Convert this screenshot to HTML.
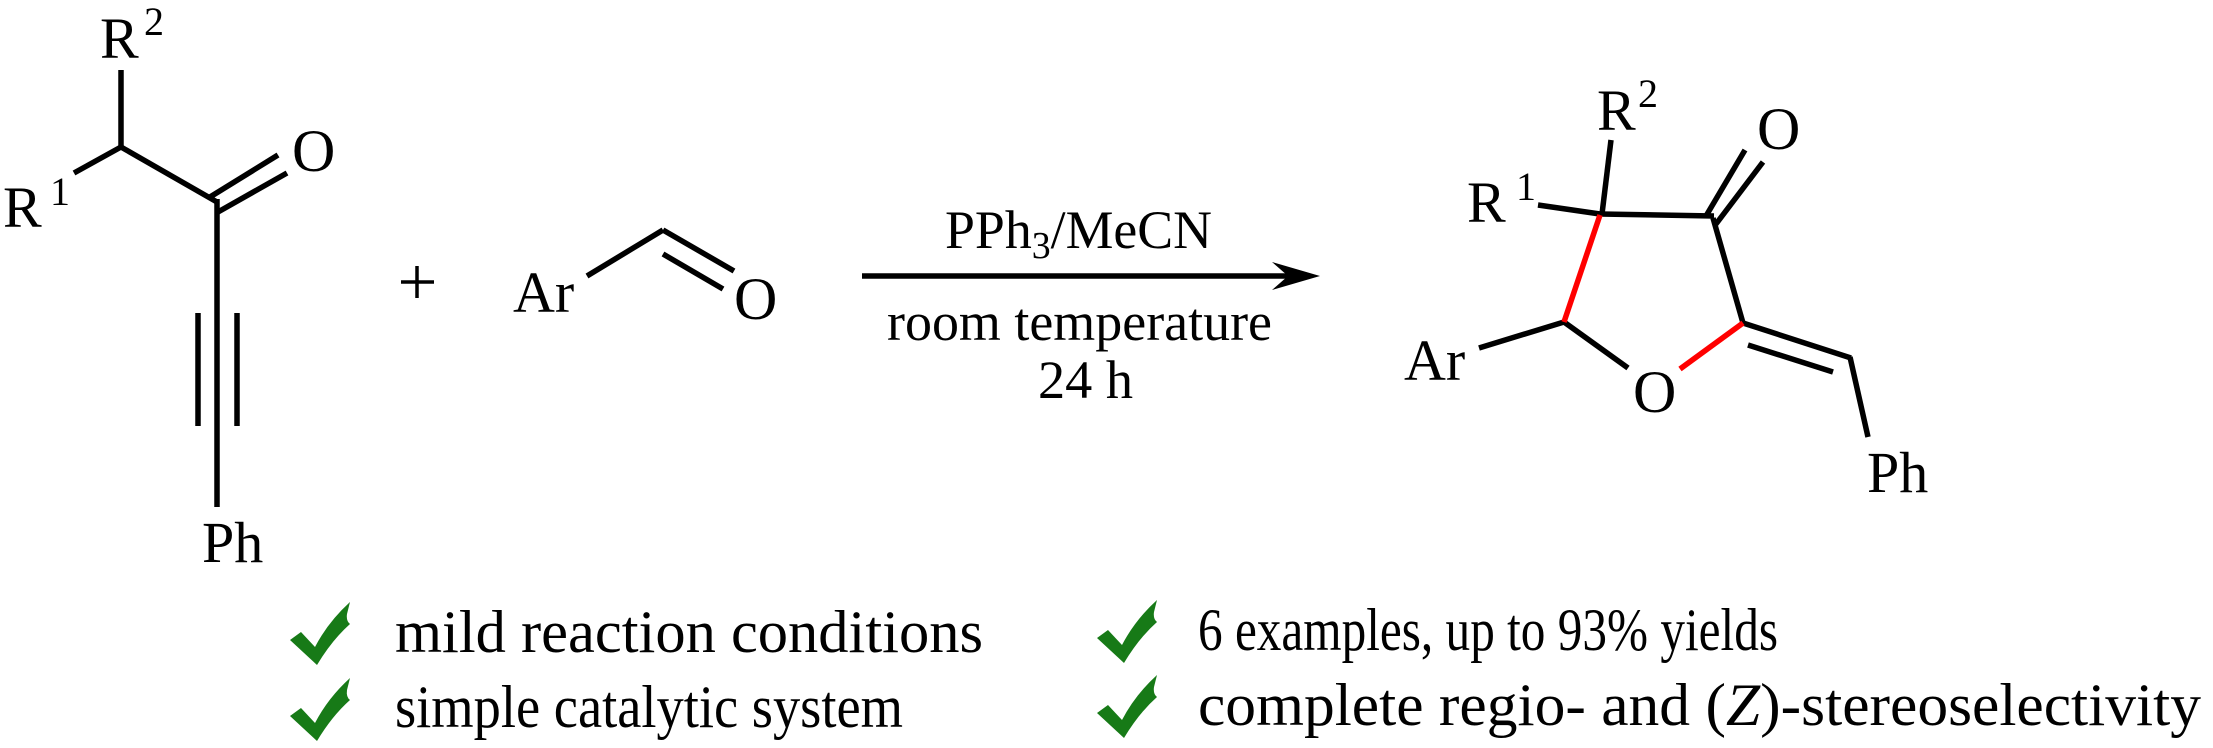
<!DOCTYPE html>
<html><head><meta charset="utf-8"><style>
html,body{margin:0;padding:0;background:#fff;}
svg{display:block;}
text{font-family:"Liberation Serif",serif;fill:#000;}
</style></head><body>
<svg width="2213" height="748" viewBox="0 0 2213 748" xmlns="http://www.w3.org/2000/svg">
<g stroke="#000" stroke-width="5.5" fill="none" stroke-linecap="butt">
<line x1="121" y1="70" x2="121" y2="147"/>
<line x1="121" y1="147" x2="74" y2="173"/>
<line x1="121" y1="147" x2="217" y2="202"/>
<line x1="210" y1="197" x2="278" y2="155"/>
<line x1="218" y1="212" x2="287" y2="173"/>
<line x1="217" y1="199" x2="217" y2="507"/>
<line x1="198" y1="313" x2="198" y2="426"/>
<line x1="237" y1="313" x2="237" y2="426"/>
<line x1="587" y1="276" x2="663" y2="230"/>
<line x1="663" y1="230" x2="734" y2="271"/>
<line x1="663" y1="254" x2="723" y2="289"/>
<line x1="862" y1="276" x2="1290" y2="276"/>
<line x1="1611" y1="140" x2="1602" y2="214"/>
<line x1="1538" y1="205" x2="1600" y2="214"/>
<line x1="1600" y1="214" x2="1714" y2="216"/>
<line x1="1706" y1="216" x2="1745" y2="150"/>
<line x1="1716" y1="224" x2="1763" y2="162"/>
<line x1="1713" y1="218" x2="1743" y2="323"/>
<line x1="1479" y1="348" x2="1564" y2="322"/>
<line x1="1564" y1="322" x2="1628" y2="368"/>
<line x1="1743" y1="323" x2="1851" y2="358"/>
<line x1="1748" y1="345" x2="1833" y2="372"/>
<line x1="1850" y1="357" x2="1868" y2="437"/>
</g>
<g stroke="#ff0000" stroke-width="5.5">
<line x1="1600" y1="215" x2="1564" y2="322"/>
<line x1="1680" y1="369" x2="1743" y2="323"/>
</g>
<polygon points="1320,276 1272,262 1288,276 1272,290" fill="#000"/>
<g stroke="#000" stroke-width="3.5"><line x1="401" y1="282" x2="434" y2="282"/><line x1="417" y1="266" x2="417" y2="298"/></g>

<g font-size="58">
<text x="100" y="58">R</text><text x="144" y="35" font-size="40">2</text>
<text x="3" y="227">R</text><text x="50" y="205" font-size="40">1</text>
<text x="292" y="171" font-size="60">O</text>
<text x="202" y="562">Ph</text>
<text x="513" y="312">Ar</text>
<text x="734" y="319" font-size="60">O</text>
<text x="1597" y="130">R</text><text x="1638" y="107" font-size="40">2</text>
<text x="1467" y="222">R</text><text x="1516" y="200" font-size="40">1</text>
<text x="1757" y="149" font-size="60">O</text>
<text x="1404" y="380">Ar</text>
<text x="1633" y="412" font-size="60">O</text>
<text x="1867" y="492">Ph</text>
</g>
<g font-size="54">
<text x="945" y="248" textLength="267" lengthAdjust="spacingAndGlyphs">PPh<tspan font-size="38" dy="10">3</tspan><tspan dy="-10">/MeCN</tspan></text>
<text x="887" y="340" textLength="385" lengthAdjust="spacingAndGlyphs">room temperature</text>
<text x="1038" y="398" textLength="95" lengthAdjust="spacingAndGlyphs">24 h</text>
</g>
<defs>
<path id="ck" d="M0,38 L11,30 L25,45 Q38,20 60,0 L57,12 Q56,19 60,22 Q42,38 27,63 Z" fill="#177a17"/>
</defs>
<use href="#ck" x="290" y="602"/>
<use href="#ck" x="290" y="678"/>
<use href="#ck" x="1097" y="600"/>
<use href="#ck" x="1097" y="675"/>
<g font-size="60">
<text x="395" y="652" textLength="588" lengthAdjust="spacingAndGlyphs">mild reaction conditions</text>
<text x="395" y="727" textLength="508" lengthAdjust="spacingAndGlyphs">simple catalytic system</text>
<text x="1198" y="650" textLength="580" lengthAdjust="spacingAndGlyphs">6 examples, up to 93% yields</text>
<text x="1198" y="725" textLength="1003" lengthAdjust="spacingAndGlyphs">complete regio- and (<tspan font-style="italic">Z</tspan>)-stereoselectivity</text>
</g>
</svg>
</body></html>
